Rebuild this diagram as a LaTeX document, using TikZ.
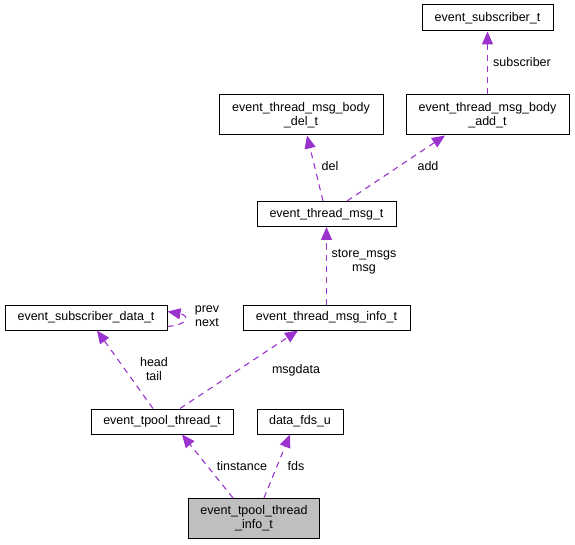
\documentclass[tikz,border=0pt]{standalone}
\usepackage{fontspec}
\setmainfont{Liberation Sans}
\usetikzlibrary{arrows.meta}
\definecolor{edgepurple}{HTML}{9A32CD}
\definecolor{boxgray}{HTML}{BFBFBF}
\begin{document}
\begin{tikzpicture}[x=1pt,y=1pt,
  box/.style={draw=black,line width=1pt,fill=white,inner sep=0pt,align=center,
    font=\fontsize{12.5}{14}\selectfont},
  rel/.style={draw=edgepurple,line width=1.1pt,dash pattern=on 6pt off 5pt,
    -{Triangle[length=13pt,width=11pt]}},
  lbl/.style={font=\fontsize{12.5}{14}\selectfont,align=center,inner sep=0pt}]
\useasboundingbox (0,0) rectangle (575,-545);
\node[box,minimum width=131pt,minimum height=26pt] (subs) at (487.5,-18) {event\_subscriber\_t};
\node[box,minimum width=164pt,minimum height=40pt] (del) at (301,-115) {event\_thread\_msg\_body\\\_del\_t};
\node[box,minimum width=163pt,minimum height=40pt] (add) at (487.5,-115) {event\_thread\_msg\_body\\\_add\_t};
\node[box,minimum width=139pt,minimum height=25pt] (msg) at (326.5,-214) {event\_thread\_msg\_t};
\node[box,minimum width=162pt,minimum height=25pt] (sdata) at (86,-317.5) {event\_subscriber\_data\_t};
\node[box,minimum width=167pt,minimum height=25pt] (minfo) at (326.5,-317.5) {event\_thread\_msg\_info\_t};
\node[box,minimum width=142pt,minimum height=25pt] (tpool) at (162,-421.5) {event\_tpool\_thread\_t};
\node[box,minimum width=86pt,minimum height=25pt] (fds) at (300,-421.5) {data\_fds\_u};
\node[box,fill=boxgray,minimum width=131pt,minimum height=40pt] (info) at (254,-518.5) {event\_tpool\_thread\\\_info\_t};

\draw[rel] ([xshift=-21pt]info.north) -- ([xshift=20pt]tpool.south);
\draw[rel] ([xshift=10pt]info.north) -- ([xshift=-10pt]fds.south);
\draw[rel] ([xshift=-9pt]tpool.north) -- ([xshift=11pt]sdata.south);
\draw[rel] ([xshift=18pt]tpool.north) -- ([xshift=-28.5pt]minfo.south);
\draw[rel] (minfo.north) -- (msg.south);
\draw[rel] ([xshift=-3.5pt]msg.north) -- ([xshift=6pt]del.south);
\draw[rel] ([xshift=20.5pt]msg.north) -- ([xshift=-42.5pt]add.south);
\draw[rel] (add.north) -- (subs.south);
\draw[rel] ([yshift=-9pt]sdata.east) .. controls +(22pt,2pt) and +(22pt,-4pt) .. ([yshift=6pt]sdata.east);

\node[lbl] (ltin) at (242,-466) {tinstance};
\node[lbl] (lfds) at (296,-466) {fds};
\node[lbl] (lht) at (154,-369) {head\\tail};
\node[lbl] (lmd) at (296,-370) {msgdata};
\node[lbl] (lpn) at (207,-316) {prev\\next};
\node[lbl] (lsm) at (364,-262) {store\_msgs\\msg};
\node[lbl] (ldel) at (330,-166) {del};
\node[lbl] (ladd) at (428,-166) {add};
\node[lbl] (lsub) at (522,-62) {subscriber};
\end{tikzpicture}
\end{document}
